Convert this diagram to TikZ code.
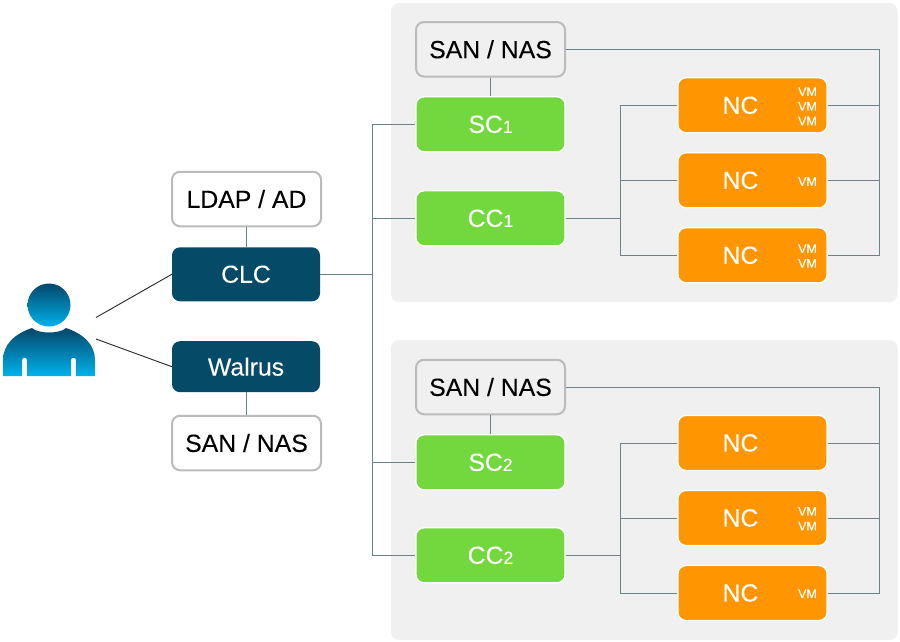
\documentclass[tikz,border=0pt]{standalone}
\usepackage{fontspec}
\setmainfont{Liberation Sans}
\newfontfamily\lblfont[FakeBold=0.12]{Liberation Sans}
\usetikzlibrary{calc}
\definecolor{linec}{HTML}{6B8288}
\definecolor{darkb}{HTML}{054A66}
\definecolor{greenb}{HTML}{72D83D}
\definecolor{orangeb}{HTML}{FF9500}
\definecolor{groupb}{HTML}{F0F0F0}
\definecolor{greyb}{HTML}{BBBBBB}
\definecolor{persontop}{HTML}{04476A}
\definecolor{personbot}{HTML}{00B2EC}
\newcommand{\bigfont}{\lblfont\fontsize{24.8}{28}\selectfont}
\newcommand{\subnum}[1]{{\fontsize{17.5}{20}\selectfont #1}}
\tikzset{
  x=1pt,y=-1pt,
  conn/.style={draw=linec,line width=1pt},
  userline/.style={draw=black!85,line width=0.9pt},
  groupbox/.style={fill=groupb,rounded corners=8pt},
  base/.style={rounded corners=8pt,inner sep=0pt,font=\bigfont,minimum width=#1},
  storebox/.style={base=149pt,minimum height=54.5pt,draw=greyb,line width=2pt,text=black},
  darkbox/.style={base=148pt,fill=darkb,text=white},
  greenbox/.style={base=149pt,minimum height=55pt,fill=greenb,draw=white,line width=1.3pt,text=white},
  ncbox/.style={base=149pt,minimum height=55pt,fill=orangeb,draw=white,line width=1.3pt},
  nctext/.style={inner sep=0pt,font=\bigfont,text=white},
  vmtext/.style={inner sep=0pt,text=white,align=center,font=\lblfont\fontsize{12.5}{14.7}\selectfont},
  persongrad/.style={top color=persontop,bottom color=personbot,draw=none},
}
\begin{document}
\begin{tikzpicture}
\useasboundingbox (0,0) rectangle (900,642);

% group panels
\fill[groupbox] (391,3) rectangle (897.5,302);
\fill[groupbox] (391,340) rectangle (897.5,640);

% person
\shade[persongrad] (49,305) circle (21.5);
\shade[persongrad] (3,376) -- (3,360) .. controls (3,345) and (14,334) .. (32,328)
  .. controls (38,334) and (60,334) .. (66,328)
  .. controls (84,334) and (95,345) .. (95,360) -- (95,376)
  -- (76,376) -- (76,360) .. controls (76,357) and (71,357) .. (71,360) -- (71,376)
  -- (27,376) -- (27,360) .. controls (27,357) and (22,357) .. (22,360) -- (22,376) -- cycle;
\coordinate (u1) at (96,317.5);
\coordinate (u2) at (96,339);

% left column
\node[storebox] (ldap) at (246.5,199) {LDAP / AD};
\node[darkbox,minimum height=54pt] (clc) at (246,274.3) {CLC};
\node[darkbox,minimum height=51pt] (walrus) at (246,366.7) {Walrus};
\node[storebox] (san0) at (246.5,443) {SAN / NAS};

% group 1
\node[storebox] (san1) at (490.5,49.3) {SAN / NAS};
\node[greenbox] (sc1) at (490.5,124.3) {SC\subnum{1}};
\node[greenbox] (cc1) at (490.5,218.3) {CC\subnum{1}};
\node[ncbox] (n11) at (752.5,105.3) {};
\node[ncbox] (n12) at (752.5,180.3) {};
\node[ncbox] (n13) at (752.5,255.3) {};
\node[nctext] (n11t) at (740.5,105.3) {NC};
\node[nctext] (n12t) at (740.5,180.3) {NC};
\node[nctext] (n13t) at (740.5,255.3) {NC};
\node[vmtext] (v11) at (807.5,106.3) {VM\\VM\\VM};
\node[vmtext] (v12) at (807.5,181.5) {VM};
\node[vmtext] (v13) at (807.5,256) {VM\\VM};

% group 2
\node[storebox] (san2) at (490.5,387) {SAN / NAS};
\node[greenbox] (sc2) at (490.5,462.3) {SC\subnum{2}};
\node[greenbox] (cc2) at (490.5,555.3) {CC\subnum{2}};
\node[ncbox] (n21) at (752.5,443) {};
\node[ncbox] (n22) at (752.5,518) {};
\node[ncbox] (n23) at (752.5,593) {};
\node[nctext] (n21t) at (740.5,443) {NC};
\node[nctext] (n22t) at (740.5,518) {NC};
\node[nctext] (n23t) at (740.5,593) {NC};
\node[vmtext] (v22) at (807.5,518.7) {VM\\VM};
\node[vmtext] (v23) at (807.5,593.7) {VM};

% bus coordinates
\coordinate (busA) at (372.3,274.3);
\coordinate (bus1) at (620.3,218.3);
\coordinate (bus2) at (620.3,555.3);
\coordinate (busR1) at (879.7,49.3);
\coordinate (busR2) at (879.7,387);

% connectors
\draw[userline] (u1) -- (clc.west);
\draw[userline] (u2) -- (walrus.west);
\draw[conn] (ldap.south -| clc) -- (clc.north);
\draw[conn] (walrus.south) -- (san0.north -| walrus);
\draw[conn] (clc.east) -- (busA);
\draw[conn] (sc1.west) -- (sc1.west -| busA) -- (cc2.west -| busA) -- (cc2.west);
\draw[conn] (cc1.west) -- (cc1.west -| busA);
\draw[conn] (sc2.west) -- (sc2.west -| busA);

\draw[conn] (san1.south) -- (sc1.north);
\draw[conn] (cc1.east) -- (bus1);
\draw[conn] (n11.west) -- (n11.west -| bus1) -- (n13.west -| bus1) -- (n13.west);
\draw[conn] (n12.west) -- (n12.west -| bus1);
\draw[conn] (san1.east) -- (busR1) -- (n13.east -| busR1) -- (n13.east);
\draw[conn] (n11.east) -- (n11.east -| busR1);
\draw[conn] (n12.east) -- (n12.east -| busR1);

\draw[conn] (san2.south) -- (sc2.north);
\draw[conn] (cc2.east) -- (bus2);
\draw[conn] (n21.west) -- (n21.west -| bus2) -- (n23.west -| bus2) -- (n23.west);
\draw[conn] (n22.west) -- (n22.west -| bus2);
\draw[conn] (san2.east) -- (busR2) -- (n23.east -| busR2) -- (n23.east);
\draw[conn] (n21.east) -- (n21.east -| busR2);
\draw[conn] (n22.east) -- (n22.east -| busR2);
\end{tikzpicture}
\end{document}
